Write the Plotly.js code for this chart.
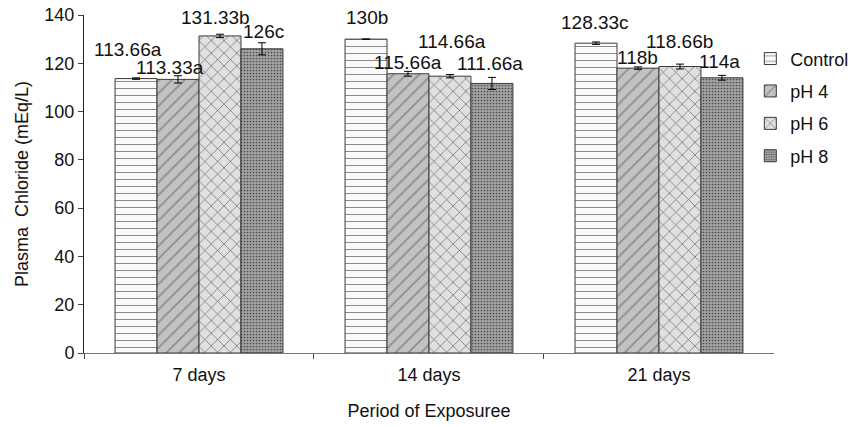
<!DOCTYPE html>
<html>
<head>
<meta charset="utf-8">
<script src="https://cdn.plot.ly/plotly-3.0.1.min.js"></script>
<style>html,body{margin:0;padding:0;background:#fff;}#chart{width:857px;height:427px;}</style>
</head>
<body>
<div id="chart"></div>
<script>
var periods = ['7 days', '14 days', '21 days'];
var seriesNames = ['Control', 'pH 4', 'pH 6', 'pH 8'];
var controlVals = [113.66, 130, 128.33];
var ph4Vals = [113.33, 115.66, 118];
var ph6Vals = [131.33, 114.66, 118.66];
var ph8Vals = [126, 111.66, 114];
var controlErr = [0.3, 0, 0.5];
var ph4Err = [1.5, 1.0, 0.5];
var ph6Err = [0.7, 0.7, 1.0];
var ph8Err = [2.5, 2.5, 1.0];
var controlLabels = ['113.66a', '130b', '128.33c'];
var ph4Labels = ['113.33a', '115.66a', '118b'];
var ph6Labels = ['131.33b', '114.66a', '118.66b'];
var ph8Labels = ['126c', '111.66a', '114a'];

var values = [controlVals, ph4Vals, ph6Vals, ph8Vals];
var errs = [controlErr, ph4Err, ph6Err, ph8Err];
var labels = [controlLabels, ph4Labels, ph6Labels, ph8Labels];

var FONT = 'Liberation Sans, Arial, sans-serif';

var styles = [
  {bg: '#fafafa', fg: '#8a8a8a', shape: '-', size: 7, sol: 0.15},
  {bg: '#c2c2c2', fg: '#8e8e8e', shape: '/', size: 9, sol: 0.2},
  {bg: '#e0e0e0', fg: '#6a6a6a', shape: 'x', size: 9, sol: 0.15},
  {bg: '#a3a3a3', fg: '#4a4a4a', shape: '.', size: 3, sol: 0.25}
];

// label placement offsets (pixels) relative to each bar top/centre
var barOffsets = [-63, -21, 21, 63];
var labelDx = [[-8, 1, -1], [-8, 0, 0], [-5, 2, 0], [1, -2, -2]];
var labelDy = [[29, 22, 21], [12, 11, 11], [18, 35, 25], [17, 20, 16]];

var traces = seriesNames.map(function (name, i) {
  return {
    type: 'bar',
    name: name,
    legendgroup: 'g' + i,
    x: periods,
    y: values[i],
    error_y: {type: 'data', array: errs[i], visible: true, color: '#000', thickness: 1, width: 4},
    marker: {
      color: styles[i].bg,
      line: {color: '#3a3a3a', width: 1},
      pattern: {shape: styles[i].shape, fgcolor: styles[i].fg, bgcolor: styles[i].bg, size: styles[i].size, solidity: styles[i].sol}
    },
    hoverinfo: 'x+y'
  };
});

var annotations = [];
for (var s = 0; s < 4; s++) {
  for (var p = 0; p < periods.length; p++) {
    annotations.push({
      x: periods[p], y: values[s][p], xref: 'x', yref: 'y',
      text: labels[s][p], showarrow: false,
      xshift: barOffsets[s] + labelDx[s][p], yshift: labelDy[s][p],
      font: {family: FONT, size: 19, color: '#111'}
    });
  }
}

var layout = {
  width: 857, height: 427,
  margin: {l: 84, r: 0, t: 15, b: 74},
  paper_bgcolor: '#fff', plot_bgcolor: '#fff',
  barmode: 'group', bargap: 0.27, bargroupgap: 0,
  font: {family: FONT, color: '#111'},
  xaxis: {
    domain: [0, 0.8926],
    showline: true, linecolor: '#777', linewidth: 1,
    ticks: 'outside', tickson: 'boundaries', ticklen: 5, tickcolor: '#444',
    ticklabelstandoff: 5,
    tickfont: {size: 18}, showgrid: false,
    title: {text: 'Period of Exposuree', font: {size: 18}, standoff: 20}
  },
  yaxis: {
    range: [0, 140], dtick: 20, showline: true, linecolor: '#222', linewidth: 1,
    ticks: 'outside', ticklen: 5, tickcolor: '#444', showgrid: false, zeroline: false,
    tickfont: {size: 18},
    title: {text: 'Plasma  Chloride (mEq/L)', font: {size: 18}, standoff: 11}
  },
  legend: {
    x: 0.862, xanchor: 'left', y: 0.925, yanchor: 'top',
    font: {size: 18}, traceorder: 'grouped', tracegroupgap: 6,
    itemwidth: 30, bgcolor: 'rgba(0,0,0,0)'
  },
  annotations: annotations,
  showlegend: true
};

Plotly.newPlot('chart', traces, layout, {displayModeBar: false, staticPlot: true});
</script>
</body>
</html>
